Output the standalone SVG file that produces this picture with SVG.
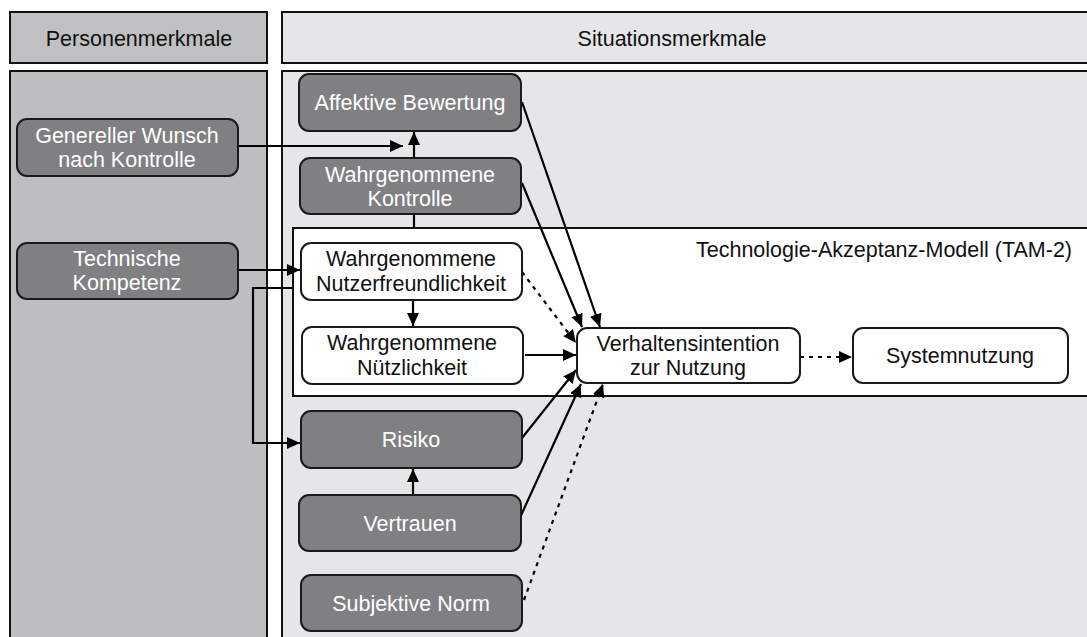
<svg xmlns="http://www.w3.org/2000/svg" width="1087" height="637" viewBox="0 0 1087 637">
<style>
text{font-family:"Liberation Sans",Arial,sans-serif;font-size:21.5px;text-anchor:middle}
.panel{stroke:#111;stroke-width:2}
.dark{fill:#808083;stroke:#1a1a1a;stroke-width:2}
.light{fill:#fff;stroke:#1a1a1a;stroke-width:2}
.wt{fill:#fff}
.bt{fill:#111}
.c{fill:none;stroke:#000;stroke-width:2.2}
.d{stroke-dasharray:4 5}
</style>
<defs>
<marker id="ah" markerUnits="userSpaceOnUse" markerWidth="15" markerHeight="14" refX="13" refY="6" orient="auto">
<path d="M0,0 L13,6 L0,12 z" fill="#000"/>
</marker>
</defs>
<rect width="1087" height="637" fill="#fff"/>
<g id="panels">
<rect class="panel" x="10" y="12" width="257" height="51" fill="#c0c0c2"/>
<rect class="panel" x="282" y="12" width="820" height="51" fill="#e6e6e8"/>
<rect class="panel" x="10" y="71" width="257" height="580" fill="#bebec0"/>
<rect class="panel" x="282" y="71" width="820" height="580" fill="#e6e6e8"/>
<text class="bt" x="139" y="46">Personenmerkmale</text>
<text class="bt" x="672" y="46">Situationsmerkmale</text>
</g>
<g id="tam">
<rect class="panel" x="293" y="228" width="810" height="168" fill="#fff"/>
<text class="bt" x="1072" y="257" style="text-anchor:end">Technologie-Akzeptanz-Modell (TAM-2)</text>
</g>
<g id="connectors">
<path class="c" d="M238,146 H403" marker-end="url(#ah)"/>
<path class="c" d="M414,158 V132" marker-end="url(#ah)"/>
<path class="c" d="M414,228 V214"/>
<path class="c" d="M238,270 H300" marker-end="url(#ah)"/>
<path class="c" d="M293,288 H253 V443 H300" marker-end="url(#ah)"/>
<path class="c" d="M413,300 V326" marker-end="url(#ah)"/>
<path class="c" d="M525,355 H576" marker-end="url(#ah)"/>
<path class="c d" d="M522,272 L576,343" marker-end="url(#ah)"/>
<path class="c" d="M522,102 L600,327" marker-end="url(#ah)"/>
<path class="c" d="M522,183 L582,327" marker-end="url(#ah)"/>
<path class="c" d="M522,438 L576,370" marker-end="url(#ah)"/>
<path class="c" d="M518,522 L581,384" marker-end="url(#ah)"/>
<path class="c d" d="M524,600 L603,384" marker-end="url(#ah)"/>
<path class="c" d="M413,495 V469" marker-end="url(#ah)"/>
<path class="c d" d="M800,357 H852" marker-end="url(#ah)"/>
</g>
<g id="genwunsch"><rect class="dark" x="17" y="119" width="221" height="57" rx="10"/><text class="wt" x="127" y="143">Genereller Wunsch</text><text class="wt" x="127" y="167">nach Kontrolle</text></g>
<g id="techkomp"><rect class="dark" x="17" y="243" width="221" height="56" rx="10"/><text class="wt" x="127" y="266">Technische</text><text class="wt" x="127" y="290">Kompetenz</text></g>
<g id="affektiv"><rect class="dark" x="299" y="74" width="222" height="57" rx="10"/><text class="wt" x="410" y="110">Affektive Bewertung</text></g>
<g id="kontrolle"><rect class="dark" x="300" y="158" width="221" height="56" rx="10"/><text class="wt" x="410" y="182">Wahrgenommene</text><text class="wt" x="410" y="206">Kontrolle</text></g>
<g id="nutzerfreund"><rect class="light" x="301" y="243" width="221" height="57" rx="10"/><text class="bt" x="411" y="266">Wahrgenommene</text><text class="bt" x="411" y="291">Nutzerfreundlichkeit</text></g>
<g id="nuetzlich"><rect class="light" x="302" y="327" width="221" height="57" rx="10"/><text class="bt" x="412" y="350">Wahrgenommene</text><text class="bt" x="412" y="375">Nützlichkeit</text></g>
<g id="verhalten"><rect class="light" x="577" y="328" width="223" height="55" rx="10"/><text class="bt" x="688" y="351">Verhaltensintention</text><text class="bt" x="688" y="375">zur Nutzung</text></g>
<g id="systemnutzung"><rect class="light" x="853" y="328" width="215" height="55" rx="10"/><text class="bt" x="960" y="363">Systemnutzung</text></g>
<g id="risiko"><rect class="dark" x="301" y="411" width="221" height="57" rx="10"/><text class="wt" x="411" y="447">Risiko</text></g>
<g id="vertrauen"><rect class="dark" x="299" y="495" width="222" height="56" rx="10"/><text class="wt" x="410" y="531">Vertrauen</text></g>
<g id="subjnorm"><rect class="dark" x="301" y="575" width="221" height="56" rx="10"/><text class="wt" x="411" y="611">Subjektive Norm</text></g>
</svg>
